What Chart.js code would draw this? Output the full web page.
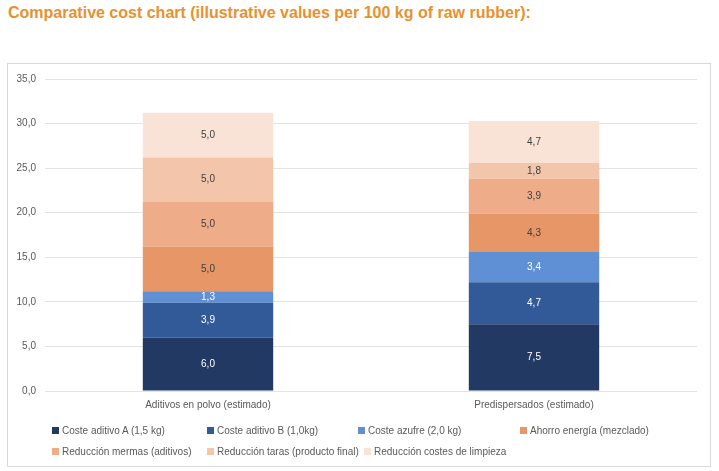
<!DOCTYPE html>
<html>
<head>
<meta charset="utf-8">
<script src="https://cdn.jsdelivr.net/npm/chart.js@4/dist/chart.umd.min.js"></script>
<style>
  html, body { margin: 0; padding: 0; background: #fff; }
  body { width: 719px; height: 471px; position: relative; overflow: hidden; font-family: "Liberation Sans", Arial, sans-serif; }
  #title { position: absolute; left: 8px; top: 4px; font-family: "Liberation Sans", Arial, sans-serif; font-weight: bold; font-size: 16px; color: #E8912E; white-space: nowrap; }
  #box { position: absolute; left: 7px; top: 63px; width: 702px; height: 402px; border: 1px solid #D9D9D9; }
  #chartWrap { position: absolute; left: 0; top: 0; width: 702px; height: 362px; }
  #legend { position: absolute; left: 0; top: 0; width: 702px; height: 402px; pointer-events: none; }
  .item { position: absolute; font-size: 10px; color: #595959; white-space: nowrap; line-height: 12px; }
  .sw { display: inline-block; width: 7px; height: 7px; margin-right: 3px; vertical-align: 0px; }
</style>
</head>
<body>
<div id="title">Comparative cost chart (illustrative values per 100 kg of raw rubber):</div>
<div id="box">
  <div id="chartWrap"><canvas id="c"></canvas></div>
  <div id="legend"></div>
</div>
<script>
const categories = ["Aditivos en polvo (estimado)", "Predispersados (estimado)"];
const seriesNames = [
  "Coste aditivo A (1,5 kg)",
  "Coste aditivo B (1,0kg)",
  "Coste azufre (2,0 kg)",
  "Ahorro energía (mezclado)",
  "Reducción mermas (aditivos)",
  "Reducción taras (producto final)",
  "Reducción costes de limpieza"
];
const costeAditivoA = [6.0, 7.5];
const costeAditivoB = [3.9, 4.7];
const costeAzufre = [1.3, 3.4];
const ahorroEnergia = [5.0, 4.3];
const reduccionMermas = [5.0, 3.9];
const reduccionTaras = [5.0, 1.8];
const reduccionLimpieza = [5.0, 4.7];
const yTicks = [0, 5, 10, 15, 20, 25, 30, 35];

const seriesValues = [costeAditivoA, costeAditivoB, costeAzufre, ahorroEnergia, reduccionMermas, reduccionTaras, reduccionLimpieza];
const colors = ["#223A63", "#325A98", "#5F8FD5", "#E79667", "#EEAD88", "#F3C6AC", "#F9E3D6"];
const labelColors = ["#FFFFFF", "#FFFFFF", "#FFFFFF", "#404040", "#404040", "#404040", "#404040"];

const fmt = v => v.toFixed(1).replace('.', ',');

const valueLabels = {
  id: 'valueLabels',
  afterDatasetsDraw(chart) {
    const ctx = chart.ctx;
    ctx.save();
    ctx.font = '10px "Liberation Sans", Arial, sans-serif';
    ctx.textAlign = 'center';
    ctx.textBaseline = 'middle';
    chart.data.datasets.forEach((ds, i) => {
      const meta = chart.getDatasetMeta(i);
      meta.data.forEach((bar, j) => {
        const p = bar.getProps(['x', 'y', 'base'], true);
        ctx.fillStyle = labelColors[i];
        ctx.fillText(fmt(ds.data[j]), p.x, (p.y + p.base) / 2);
      });
    });
    ctx.restore();
  }
};

new Chart(document.getElementById('c'), {
  type: 'bar',
  data: {
    labels: categories,
    datasets: seriesNames.map((n, i) => ({
      label: n,
      data: seriesValues[i],
      backgroundColor: colors[i],
      borderWidth: 0,
      categoryPercentage: 1.0,
      barPercentage: 0.4
    }))
  },
  options: {
    responsive: true,
    maintainAspectRatio: false,
    animation: false,
    layout: { padding: { top: 13, right: 13, left: 0, bottom: 0 } },
    plugins: { legend: { display: false }, tooltip: { enabled: false } },
    scales: {
      x: {
        stacked: true,
        grid: { display: false, drawTicks: false },
        border: { display: false },
        ticks: { color: '#595959', font: { size: 10, family: '"Liberation Sans", Arial, sans-serif' }, padding: 8 },
        afterFit(s) { s.height = 35; }
      },
      y: {
        stacked: true,
        min: 0,
        max: 35,
        afterBuildTicks(s) { s.ticks = yTicks.map(v => ({ value: v })); },
        grid: { color: '#E3E3E3', drawTicks: false, lineWidth: 1 },
        border: { display: false },
        ticks: { color: '#595959', font: { size: 10, family: '"Liberation Sans", Arial, sans-serif' }, padding: 9, callback: v => fmt(v) },
        afterFit(s) { s.width = 37; }
      }
    }
  },
  plugins: [valueLabels]
});

const legendLeft = [[44, 199, 350, 512], [44, 199, 356]];
const legendTop = [361, 382];
const lg = document.getElementById('legend');
seriesNames.forEach((n, i) => {
  const row = i < 4 ? 0 : 1;
  const col = i < 4 ? i : i - 4;
  const d = document.createElement('div');
  d.className = 'item';
  d.style.left = legendLeft[row][col] + 'px';
  d.style.top = legendTop[row] + 'px';
  d.innerHTML = '<span class="sw" style="background:' + colors[i] + '"></span>' + n;
  lg.appendChild(d);
});
</script>
</body>
</html>
